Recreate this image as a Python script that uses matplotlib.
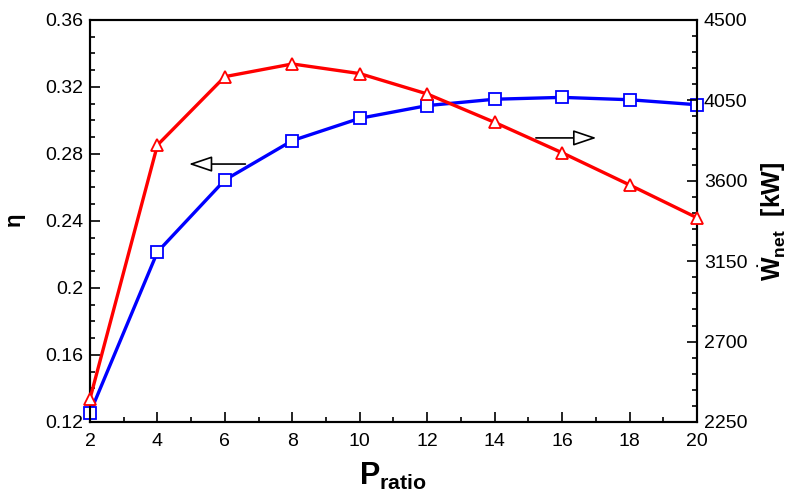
import numpy as np
import matplotlib
matplotlib.use("Agg")
import matplotlib.pyplot as plt
from matplotlib.ticker import MultipleLocator

plt.rcParams['font.family'] = ['Liberation Sans', 'DejaVu Sans']
plt.rcParams['mathtext.fontset'] = 'custom'
plt.rcParams['mathtext.rm'] = 'Liberation Sans'
plt.rcParams['mathtext.bf'] = 'Liberation Sans:bold'

# data
p_ratio = [2, 4, 6, 8, 10, 12, 14, 16, 18, 20]
eta = [0.1254, 0.2215, 0.2645, 0.288, 0.3013, 0.3089, 0.3127, 0.3138, 0.3124, 0.3094]
w_net = [2380, 3800, 4183, 4254, 4200, 4086, 3927, 3757, 3577, 3393]

fig = plt.figure(figsize=(7.88, 4.95), dpi=100)
ax = fig.add_axes([0.1142, 0.1475, 0.7703, 0.8121])
ax2 = ax.twinx()

ax.plot(p_ratio, eta, color='#0000ff', lw=2.4, marker='s', ms=8.5,
        mfc='white', mec='#0000ff', mew=1.3, zorder=3, clip_on=False)
ax2.plot(p_ratio, w_net, color='#ff0000', lw=2.4, marker='^', ms=9,
         mfc='white', mec='#ff0000', mew=1.3, zorder=3, clip_on=False)

ax.set_xlim(2, 20)
ax.set_ylim(0.12, 0.36)
ax2.set_ylim(2250, 4500)

ax.xaxis.set_major_locator(MultipleLocator(2))
ax.xaxis.set_minor_locator(MultipleLocator(1))
ax.yaxis.set_major_locator(MultipleLocator(0.04))
ax.yaxis.set_minor_locator(MultipleLocator(0.01))
ax2.yaxis.set_major_locator(MultipleLocator(450))
ax2.yaxis.set_minor_locator(MultipleLocator(90))
ax.set_yticks([0.12, 0.16, 0.2, 0.24, 0.28, 0.32, 0.36])
ax.set_yticklabels(['0.12', '0.16', '0.2', '0.24', '0.28', '0.32', '0.36'])

for a in (ax, ax2):
    a.tick_params(which='major', direction='in', length=7, width=1.2, labelsize=14)
    a.tick_params(which='minor', direction='in', length=3.5, width=1.2)
    for s in a.spines.values():
        s.set_linewidth(1.5)
ax.tick_params(axis='x', which='both', top=False, pad=8)
ax.tick_params(axis='y', which='both', right=False, pad=5)
ax2.tick_params(axis='y', which='both', left=False, pad=5)

ax.set_xlabel(r'$\mathbf{P}_{\mathbf{ratio}}$', fontsize=22, labelpad=8)
ax.set_ylabel(r'$\mathbf{\eta}$', fontsize=16, labelpad=12)
ax2.set_ylabel(r'$\dot{\mathbf{W}}_{\mathbf{net}}$  $\mathbf{[kW]}$', fontsize=18, labelpad=6)

# open-head arrows pointing to each curve's axis
arrow = dict(arrowstyle='-|>,head_length=0.8,head_width=0.27', color='black',
             lw=1.2, fc='white', mutation_scale=18)
ax.annotate('', xy=(4.85, 0.274), xytext=(6.69, 0.274), arrowprops=arrow)
ax.annotate('', xy=(17.1, 0.2896), xytext=(15.14, 0.2896), arrowprops=arrow)

fig.savefig('out.png', dpi=100)
